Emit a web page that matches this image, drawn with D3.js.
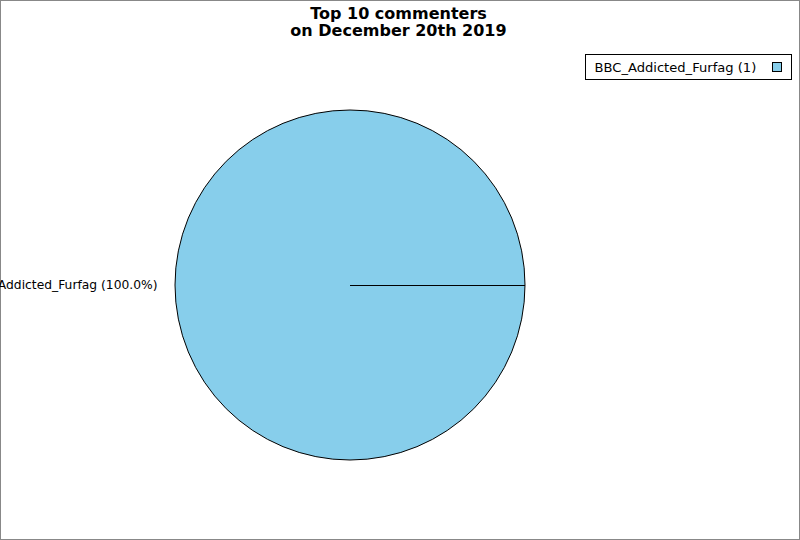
<!DOCTYPE html>
<html>
<head>
<meta charset="utf-8">
<script src="https://cdn.jsdelivr.net/npm/d3@7"></script>
<style>
  html, body { margin: 0; padding: 0; background: #fff; }
  svg { display: block; }
</style>
</head>
<body>
<svg id="chart" width="800" height="540"></svg>
<script>
const titleLines = ["Top 10 commenters", "on December 20th 2019"];
const commenters = ["BBC_Addicted_Furfag"];
const counts = [1];
const colors = ["#87ceeb"];

const W = 800, H = 540;
const svg = d3.select("#chart");
const font = "DejaVu Sans, sans-serif";

svg.append("rect").attr("x", 0.5).attr("y", 0.5).attr("width", W - 1).attr("height", H - 1)
  .attr("fill", "#fff").attr("stroke", "#888").attr("stroke-width", 1);

// Title
const title = svg.append("text").attr("text-anchor", "middle")
  .attr("font-family", font).attr("font-weight", "bold").attr("font-size", 16);
titleLines.forEach((t, i) => {
  title.append("tspan").attr("x", 398.5).attr("y", 19 + i * 17).text(t);
});

// Pie
const cx = 350, cy = 285, R = 175;
const data = commenters.map((n, i) => ({ name: n, value: counts[i], color: colors[i] }));
const total = d3.sum(counts);
const pie = d3.pie().value(d => d.value).sort(null)
  .startAngle(Math.PI / 2).endAngle(Math.PI / 2 - 2 * Math.PI);
const arcs = pie(data);
const arc = d3.arc().innerRadius(0).outerRadius(R);
const g = svg.append("g").attr("transform", `translate(${cx},${cy})`);

g.selectAll("path.slice").data(arcs).join("path")
  .attr("class", "slice")
  .attr("d", arc)
  .attr("fill", d => d.data.color)
  .attr("stroke", "#000").attr("stroke-width", 1);

// radial edges of slices
g.selectAll("line.edge").data(arcs).join("line")
  .attr("class", "edge")
  .attr("x1", 0).attr("y1", 0.5)
  .attr("x2", d => R * Math.sin(d.startAngle))
  .attr("y2", d => -R * Math.cos(d.startAngle) + 0.5)
  .attr("stroke", "#000").attr("stroke-width", 1)
  .attr("shape-rendering", "crispEdges");

// labels
const labelR = R * 1.1;
g.selectAll("text.lbl").data(arcs).join("text")
  .attr("class", "lbl")
  .attr("font-family", font).attr("font-size", 12.3)
  .attr("x", d => { const a = (d.startAngle + d.endAngle) / 2; return labelR * Math.sin(a); })
  .attr("y", d => { const a = (d.startAngle + d.endAngle) / 2; return -labelR * Math.cos(a); })
  .attr("dy", "0.35em")
  .attr("text-anchor", d => { const a = (d.startAngle + d.endAngle) / 2; return Math.sin(a) < 0 ? "end" : "start"; })
  .text(d => `${d.data.name} (${(d.data.value / total * 100).toFixed(1)}%)`);

// Legend
const leg = svg.append("g");
leg.append("rect").attr("x", 585.5).attr("y", 54.5).attr("width", 206).attr("height", 25)
  .attr("fill", "#fff").attr("stroke", "#000");
data.forEach((d, i) => {
  leg.append("text").attr("x", 594.5).attr("y", 72 + i * 20)
    .attr("font-family", font).attr("font-size", 13.1).text(`${d.name} (${d.value})`);
  leg.append("rect").attr("x", 772.5).attr("y", 62.5 + i * 20).attr("width", 9).attr("height", 9)
    .attr("fill", d.color).attr("stroke", "#000");
});
</script>
</body>
</html>
